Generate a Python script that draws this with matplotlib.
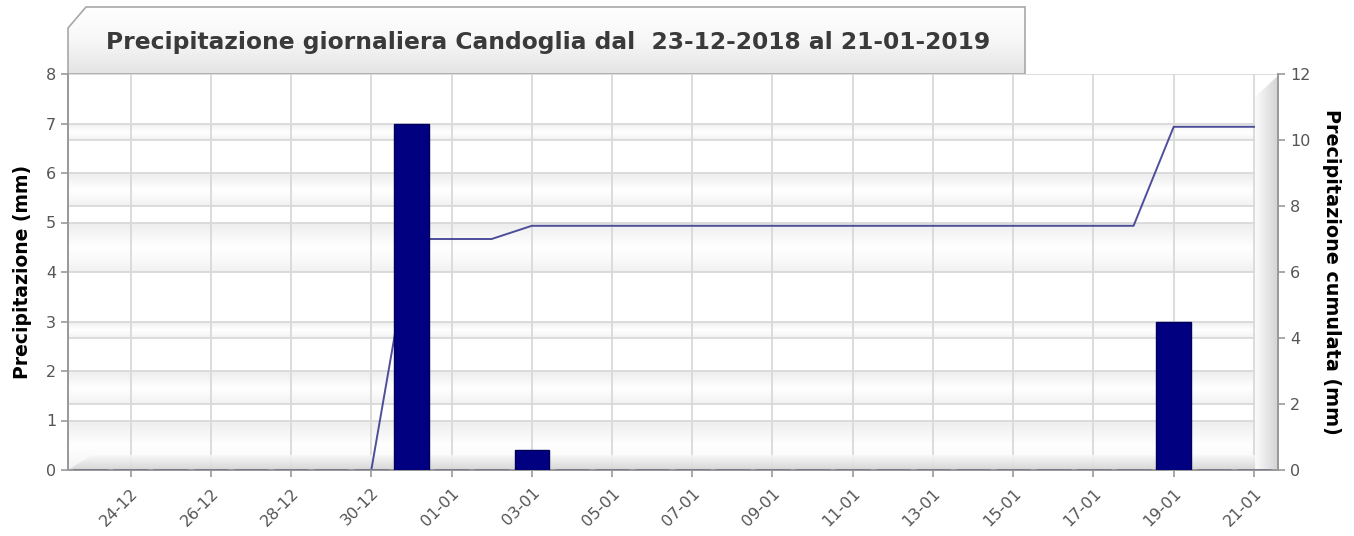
import numpy as np
import matplotlib.pyplot as plt
from matplotlib.patches import Polygon
from matplotlib.colors import LinearSegmentedColormap

# data (days counted from 23-12-2018)
days = list(range(30))
pioggia = [0, 0, 0, 0, 0, 0, 0, 0, 7.0, 0, 0, 0.4, 0, 0, 0,
           0, 0, 0, 0, 0, 0, 0, 0, 0, 0, 0, 0, 3.0, 0, 0]
cumulata = [0, 0, 0, 0, 0, 0, 0, 0, 7.0, 7.0, 7.0, 7.4, 7.4, 7.4, 7.4,
            7.4, 7.4, 7.4, 7.4, 7.4, 7.4, 7.4, 7.4, 7.4, 7.4, 7.4, 7.4, 10.4, 10.4, 10.4]
tick_days = [1, 3, 5, 7, 9, 11, 13, 15, 17, 19, 21, 23, 25, 27, 29]
tick_labels = ["24-12", "26-12", "28-12", "30-12", "01-01", "03-01", "05-01", "07-01",
               "09-01", "11-01", "13-01", "15-01", "17-01", "19-01", "21-01"]
titolo = "Precipitazione giornaliera Candoglia dal  23-12-2018 al 21-01-2019"

W, H = 1354, 536
fig = plt.figure(figsize=(W / 100, H / 100), dpi=100)
fig.patch.set_facecolor("white")

L, R, B, T = 68, 1278, 470, 74
pos = [L / W, 1 - B / H, (R - L) / W, (B - T) / H]

# title tab
axt = fig.add_axes([0, 0, 1, 1])
axt.set_xlim(0, W)
axt.set_ylim(H, 0)
axt.axis("off")
tab = Polygon([(68, 74), (68, 28), (86, 7), (1025, 7), (1025, 74)], closed=True,
              facecolor="none", edgecolor="#a8a8a8", lw=1.2)
axt.add_patch(tab)
im = axt.imshow(np.linspace(0, 1, 100).reshape(-1, 1),
                cmap=LinearSegmentedColormap.from_list("t", ["#ffffff", "#f7f7f7", "#e4e4e4"]),
                extent=(68, 1025, 74, 7), aspect="auto", origin="upper")
im.set_clip_path(tab)
axt.text(548, 42, titolo, ha="center", va="center", fontsize=16.8, fontweight="bold", color="#3a3a3a")

ax2 = fig.add_axes(pos)
ax = ax2.twinx()
ax.yaxis.tick_left()
ax.yaxis.set_label_position("left")
ax2.yaxis.tick_right()
ax2.yaxis.set_label_position("right")
ax.set_zorder(ax2.get_zorder() + 1)
ax.patch.set_visible(False)

xmin, xmax = -0.56, 29.6
ax2.set_xlim(xmin, xmax)
ax2.set_ylim(0, 12)
ax.set_ylim(0, 8)

# shaded bands between grid lines (both scales)
lev = sorted(set([round(v * 1.5, 3) for v in range(9)] + list(range(0, 13, 2))))
band_cmap = LinearSegmentedColormap.from_list("b", ["#f1f1f1", "#fafafa", "#ffffff", "#f6f6f6", "#ededed"])
for i in range(len(lev) - 1):
    if (len(lev) - 2 - i) % 2 == 1:
        ax2.imshow(np.linspace(0, 1, 50).reshape(-1, 1), cmap=band_cmap,
                   extent=(xmin, xmax, lev[i], lev[i + 1]), aspect="auto", origin="lower", zorder=0)
    else:
        ax2.axhspan(lev[i], lev[i + 1], color="#ffffff", zorder=0, lw=0)
for v in lev:
    ax2.axhline(v, color="#d9d9d9", lw=1.3, zorder=1)
for d in tick_days:
    ax2.axvline(d, color="#d9d9d9", lw=1.3, zorder=1)

# 3D floor and right wall
floor = Polygon([(xmin, 0), (xmin + 0.6, 0.45), (xmax, 0.45), (xmax, 0)], closed=True,
                facecolor="none", edgecolor="none")
ax2.add_patch(floor)
fl = ax2.imshow(np.linspace(0, 1, 50).reshape(-1, 1),
                cmap=LinearSegmentedColormap.from_list("f", ["#d4d4d4", "#f8f8f8"]),
                extent=(xmin, xmax, 0, 0.45), aspect="auto", origin="lower", zorder=1.5, alpha=0.9)
fl.set_clip_path(floor)
wall = Polygon([(29.03, 0), (29.03, 11.3), (xmax, 11.95), (xmax, 0)], closed=True,
               facecolor="none", edgecolor="none")
ax2.add_patch(wall)
wl = ax2.imshow(np.linspace(0, 1, 50).reshape(1, -1),
                cmap=LinearSegmentedColormap.from_list("w", ["#fbfbfb", "#d4d4d4"]),
                extent=(29.03, xmax, 0, 12), aspect="auto", origin="lower", zorder=1.5)
wl.set_clip_path(wall)

ax2.plot(days[7:], cumulata[7:], color="#30308a", lw=1.4, alpha=0.85, zorder=3)

ax.bar(days, pioggia, width=0.86, color="#000080", edgecolor="#00005a", lw=1, zorder=3)

for a in (ax, ax2):
    for s in a.spines.values():
        s.set_color("#9a9a9a")
        s.set_linewidth(1.3)
    a.spines["top"].set_visible(False)
ax2.set_xticks(tick_days)
ax2.set_xticklabels(tick_labels, rotation=45, ha="right", va="top", rotation_mode="anchor")
ax.set_yticks(range(9))
ax2.set_yticks(range(0, 13, 2))
for a in (ax, ax2):
    a.tick_params(colors="#9a9a9a", labelcolor="#555555", labelsize=11.5, length=5, width=1.2)
ax2.tick_params(axis="x", pad=6)

ax.set_ylabel("Precipitazione (mm)", fontsize=13.5, fontweight="bold", labelpad=10)
ax2.set_ylabel("Precipitazione cumulata (mm)", fontsize=13.8, fontweight="bold", rotation=-90, labelpad=22)

fig.savefig("out.png", dpi=100)
